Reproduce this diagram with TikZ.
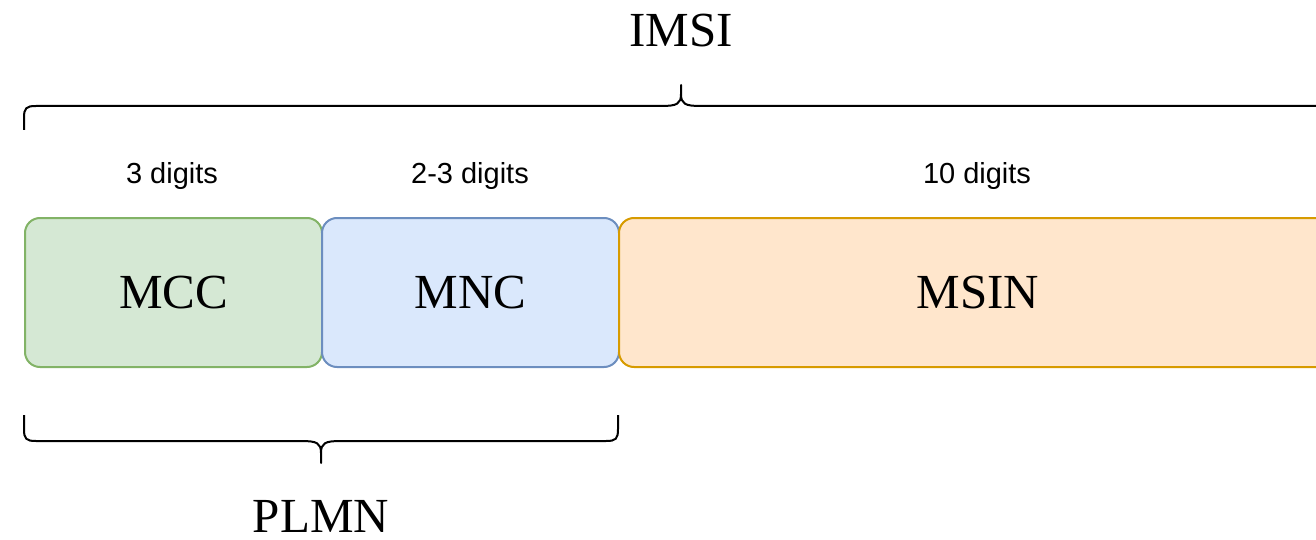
\documentclass[tikz,border=0pt]{standalone}
\usepackage{fontspec}
\setmainfont{Liberation Serif}
\newfontfamily\labelsans{Liberation Sans}
\begin{document}
\begin{tikzpicture}[x=1pt,y=-1pt,
  field/.style={draw, line width=2pt, rounded corners=15pt, minimum height=149pt, anchor=north west, inner sep=0pt,
    font=\fontsize{49}{58}\selectfont},
  brace/.style={line width=2pt, line join=round},
  digits/.style={inner sep=0pt, anchor=base, font=\labelsans\fontsize{29}{34}\selectfont},
  title/.style={inner sep=0pt, font=\fontsize{49}{58}\selectfont}]
\definecolor{gfill}{HTML}{D5E8D4}\definecolor{gline}{HTML}{82B366}
\definecolor{bfill}{HTML}{DAE8FC}\definecolor{bline}{HTML}{6C8EBF}
\definecolor{ofill}{HTML}{FFE6CC}\definecolor{oline}{HTML}{D79B00}
\useasboundingbox (0,0) rectangle (1316,540);
\clip (0,0) rectangle (1316,540);
\node[field, fill=gfill, draw=gline, minimum width=297pt] (mcc) at (24,217) {MCC};
\node[field, fill=bfill, draw=bline, minimum width=297pt] (mnc) at (321,217) {MNC};
\node[field, fill=ofill, draw=oline, minimum width=718pt] (msin) at (618,217) {MSIN};
\node[digits] (d1) at (172,183) {3 digits};
\node[digits] (d2) at (470,183) {2-3 digits};
\node[digits] (d3) at (977,183) {10 digits};
\node[title] (imsi) at (681,31) {IMSI};
\node[title] (plmn) at (321,516) {PLMN};
% top brace
\draw[brace] (24,130) -- (24,118) .. controls (24,108) and (26,106) .. (36,106)
  -- (661,106) .. controls (677,106) and (681,104) .. (681,94) -- (681,85)
  -- (681,94) .. controls (681,104) and (685,106) .. (701,106) -- (1326,106)
  .. controls (1336,106) and (1338,108) .. (1338,118) -- (1338,130);
% bottom brace
\draw[brace] (24,415) -- (24,429) .. controls (24,439) and (26,441) .. (36,441)
  -- (301,441) .. controls (317,441) and (321,443) .. (321,453) -- (321,463)
  -- (321,453) .. controls (321,443) and (325,441) .. (341,441) -- (606,441)
  .. controls (616,441) and (618,439) .. (618,429) -- (618,415);
\end{tikzpicture}
\end{document}
